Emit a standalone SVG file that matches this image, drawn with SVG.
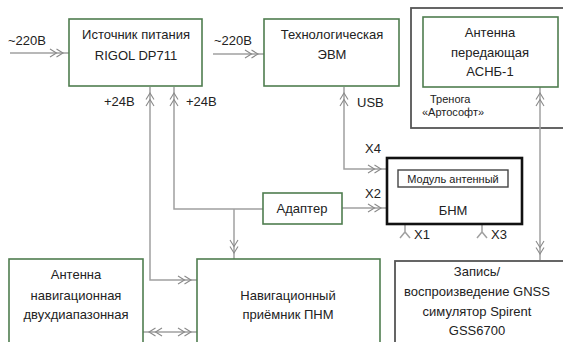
<svg xmlns="http://www.w3.org/2000/svg" width="563" height="342" viewBox="0 0 563 342">
<style>
text{font-family:"Liberation Sans",Arial,sans-serif;fill:#222;font-size:13px}
.c{text-anchor:middle}
.s{font-size:11px}
.g{fill:#fff;stroke:#4f7d4f;stroke-width:1.6}
.d{fill:#fff;stroke:#555;stroke-width:1.8}
.k{fill:#fff;stroke:#111;stroke-width:2.6}
.m{fill:#fff;stroke:#444;stroke-width:1.4}
.ln{fill:none;stroke:#a0a0a0;stroke-width:1.5}
.ar{marker-end:url(#ch)}
.ab{marker-start:url(#ch);marker-end:url(#ch)}
</style>
<defs>
<marker id="ch" viewBox="-20 -5 20 10" refX="0" refY="0" markerWidth="20" markerHeight="10" markerUnits="userSpaceOnUse" orient="auto-start-reverse">
<path d="M-19,-4 L-12.5,0 L-19,4 M-12.5,-4 L-6,0 L-12.5,4" fill="none" stroke="#8a8a8a" stroke-width="1.1"/>
</marker>
</defs>
<rect width="563" height="342" fill="#fff"/>

<g id="tripod">
<rect class="d" x="411" y="8" width="160" height="120"/>
<text class="s" x="430" y="103">Тренога</text>
<text class="s" x="422" y="116">«Артософт»</text>
</g>

<g id="connectors">
<path class="ln ar" d="M10,53 H69"/>
<path class="ln ar" d="M213,54 H264"/>
<path class="ln ab" d="M197,280 H150 V87"/>
<path class="ln ar" d="M263,209 H174 V87"/>
<path class="ln ar" d="M234,209 V259"/>
<path class="ln ab" d="M387,169 H344 V87"/>
<path class="ln ar" d="M342,208 H387"/>
<path class="ln ab" d="M540,87 V260"/>
<path class="ln ab" d="M143,332 H197"/>
<path class="ln" d="M405,224 V232 M400,238 L405,232 L410,238"/>
<path class="ln" d="M482,224 V232 M477,238 L482,232 L487,238"/>
</g>

<g id="power">
<rect class="g" x="69" y="19" width="133" height="67"/>
<text class="c" x="136" y="39">Источник питания</text>
<text class="c" x="136" y="60">RIGOL DP711</text>
</g>
<text x="8" y="45">~220В</text>
<text x="214" y="45">~220В</text>
<text x="104" y="106">+24В</text>
<text x="186" y="106">+24В</text>
<text x="357" y="107">USB</text>

<g id="evm">
<rect class="g" x="264" y="19" width="135" height="67"/>
<text class="c" x="332" y="39">Технологическая</text>
<text class="c" x="332" y="59">ЭВМ</text>
</g>

<g id="antenna-tx">
<rect class="g" x="423" y="17" width="135" height="70"/>
<text class="c" x="490" y="37">Антенна</text>
<text class="c" x="490" y="57">передающая</text>
<text class="c" x="490" y="76">АСНБ-1</text>
</g>

<g id="adapter">
<rect class="g" x="263" y="193" width="79" height="31"/>
<text class="c" x="302" y="213">Адаптер</text>
</g>

<g id="bnm">
<rect class="k" x="387" y="158" width="135" height="66"/>
<rect class="m" x="398" y="170" width="110" height="17"/>
<text class="c s" x="453" y="183">Модуль антенный</text>
<text class="c" x="453" y="215">БНМ</text>
</g>
<text x="365" y="153">X4</text>
<text x="365" y="198">X2</text>
<text x="414" y="239">X1</text>
<text x="491" y="239">X3</text>

<g id="antenna-nav">
<rect class="g" x="9" y="259" width="134" height="90"/>
<text class="c" x="76" y="279">Антенна</text>
<text class="c" x="76" y="300">навигационная</text>
<text class="c" x="76" y="319">двухдиапазонная</text>
</g>

<g id="receiver">
<rect class="g" x="197" y="259" width="183" height="90"/>
<text class="c" x="288" y="300">Навигационный</text>
<text class="c" x="288" y="319">приёмник ПНМ</text>
</g>

<g id="gnss">
<rect class="d" x="395" y="261" width="175" height="90"/>
<text class="c" x="477" y="276">Запись/</text>
<text class="c" x="477" y="296">воспроизведение GNSS</text>
<text class="c" x="477" y="316">симулятор Spirent</text>
<text class="c" x="477" y="335">GSS6700</text>
</g>
</svg>
